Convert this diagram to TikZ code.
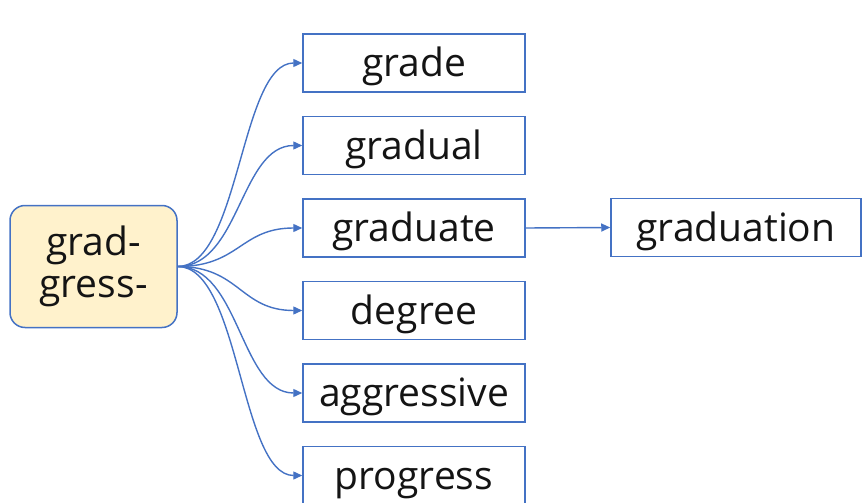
\documentclass[tikz,border=0pt]{standalone}
\usepackage{fontspec}
\setmainfont{Open Sans}
\usetikzlibrary{arrows.meta}
\definecolor{lineblue}{RGB}{68,114,196}
\definecolor{rootfill}{RGB}{255,242,204}
\definecolor{txt}{RGB}{20,20,20}
\tikzset{
  wordbox/.style={draw=lineblue, line width=1.5pt, fill=white, minimum width=222pt, minimum height=58pt,
    inner sep=0pt, text height=28pt, text depth=1pt, font=\fontsize{39}{42}\selectfont, text=txt},
  rootbox/.style={draw=lineblue, line width=1.5pt, fill=rootfill, rounded corners=15pt,
    minimum width=167pt, minimum height=122pt, inner sep=0pt, align=center,
    font=\fontsize{39}{42}\selectfont, text=txt},
  conn/.style={draw=lineblue, line width=1.4pt, -{Triangle[length=9pt,width=8pt]}}
}
\begin{document}
\begin{tikzpicture}[x=1pt,y=-1pt]
\useasboundingbox (0,0) rectangle (862,503);
\clip (0,0) rectangle (862,503);
\node[rootbox] (root) at (93.5,266.5) {grad-\\gress-};
\node[wordbox] (c1) at (414,63) {grade};
\node[wordbox] (c2) at (414,145.5) {gradual};
\node[wordbox] (c3) at (414,228) {graduate};
\node[wordbox] (c4) at (414,310.5) {degree};
\node[wordbox] (c5) at (414,393) {aggressive};
\node[wordbox] (c6) at (414,475.5) {progress};
\node[wordbox, minimum width=250pt] (g) at (736,227.5) {graduation};
\foreach \n in {c1,c2,c3,c4,c5,c6}{
  \draw[conn] (root.east) .. controls +(62,0) and +(-62,0) .. (\n.west);
}
\draw[conn] (c3.east) -- (g.west);
\end{tikzpicture}
\end{document}
